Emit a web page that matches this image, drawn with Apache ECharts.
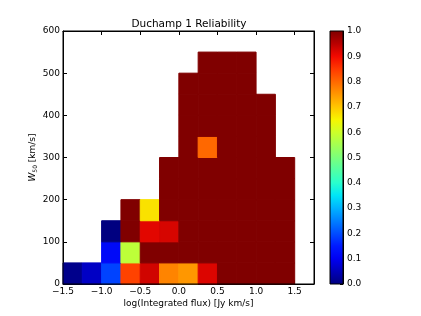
<!DOCTYPE html>
<html>
<head>
<meta charset="utf-8">
<script src="https://cdn.jsdelivr.net/npm/echarts@6/dist/echarts.min.js"></script>
<style>
html,body{margin:0;padding:0;background:#fff;}
#c{width:421px;height:316px;}
</style>
</head>
<body>
<div id="c"></div>
<script>
// ---- data ----
const title = 'Duchamp 1 Reliability';
const xLabel = 'log(Integrated flux) [Jy km/s]';
const binWidth = 0.25;   // log flux bin width
const binHeight = 50;    // W50 bin height (km/s)
const xEdges = [-1.5, -1.25, -1.0, -0.75, -0.5, -0.25, 0.0, 0.25, 0.5, 0.75, 1.0, 1.25];
const yEdges = [0, 50, 100, 150, 200, 250, 300, 350, 400, 450, 500];
// reliability per W50 row (bottom -> top), one value per flux bin, null = empty
const row0  = [0.01, 0.06, 0.19, 0.84, 0.93, 0.77, 0.75, 0.92, 1, 1, 1, 1];
const row1  = [null, null, 0.12, 0.58, 1, 1, 1, 1, 1, 1, 1, 1];
const row2  = [null, null, 0.0, 1, 0.915, 0.925, 1, 1, 1, 1, 1, 1];
const row3  = [null, null, null, 1, 0.67, 1, 1, 1, 1, 1, 1, 1];
const row4  = [null, null, null, null, null, 1, 1, 1, 1, 1, 1, 1];
const row5  = [null, null, null, null, null, 1, 1, 1, 1, 1, 1, 1];
const row6  = [null, null, null, null, null, null, 1, 0.8, 1, 1, 1, null];
const row7  = [null, null, null, null, null, null, 1, 1, 1, 1, 1, null];
const row8  = [null, null, null, null, null, null, 1, 1, 1, 1, 1, null];
const row9  = [null, null, null, null, null, null, 1, 1, 1, 1, null, null];
const row10 = [null, null, null, null, null, null, null, 1, 1, 1, null, null];
const rows = [row0, row1, row2, row3, row4, row5, row6, row7, row8, row9, row10];
const xTicks = [-1.5, -1.0, -0.5, 0.0, 0.5, 1.0, 1.5];
const yTicks = [0, 100, 200, 300, 400, 500, 600];
const cbTicks = [0.0, 0.1, 0.2, 0.3, 0.4, 0.5, 0.6, 0.7, 0.8, 0.9, 1.0];

// jet colormap stops (style)
const jet = ['#000080','#0000b9','#0000f3','#001aff','#004dff','#0080ff','#00b3ff','#00e6f7',
             '#29ffcd','#52ffa4','#7bff7b','#a4ff52','#cdff29','#f7f500','#ffc600','#ff9700',
             '#ff6800','#ff3900','#f30900','#b90000','#800000'];

const cells = [];
rows.forEach((r, j) => r.forEach((v, i) => {
  if (v !== null) cells.push([xEdges[i], yEdges[j], v]);
}));

const fmt = v => (v < 0 ? '\u2212' : '') + Math.abs(v).toFixed(1);
const FONT = 'DejaVu Sans';
const line = {show: true, onZero: false, lineStyle: {color: '#000', width: 1}};

const chart = echarts.init(document.getElementById('c'), null, {renderer: 'canvas'});
chart.setOption({
  animation: false,
  backgroundColor: '#fff',
  textStyle: {fontFamily: FONT},
  title: {
    text: title, left: 184, top: 14, textAlign: 'center',
    textStyle: {fontFamily: FONT, fontSize: 10.5, fontWeight: 'normal', color: '#000'}
  },
  grid: [
    {left: 63, top: 31, width: 251, height: 253, show: true, borderColor: '#000', borderWidth: 1, backgroundColor: 'transparent', z: 3},
    {left: 330, top: 31, width: 13, height: 253, show: true, borderColor: '#000', borderWidth: 1, backgroundColor: 'transparent', z: 3}
  ],
  visualMap: [{
    show: false, type: 'continuous', min: 0, max: 1, dimension: 2, seriesIndex: 0,
    inRange: {color: jet}
  }],
  xAxis: [
    {gridIndex: 0, type: 'value', min: -1.5, max: 1.75, interval: 0.5, position: 'bottom',
     name: xLabel, nameLocation: 'middle', nameGap: 15, nameMoveOverlap: false,
     nameTextStyle: {fontFamily: FONT, fontSize: 9, color: '#000'},
     axisLine: line,
     axisTick: {show: true, inside: true, length: 4, lineStyle: {color: '#000'}},
     axisLabel: {fontFamily: FONT, fontSize: 9, color: '#000', margin: 3,
       formatter: v => xTicks.some(t => Math.abs(t - v) < 1e-9) ? fmt(v) : ''},
     splitLine: {show: false}},
    {gridIndex: 0, type: 'value', min: -1.5, max: 1.75, interval: 0.5, position: 'top',
     axisLine: line,
     axisTick: {show: true, inside: true, length: 4, lineStyle: {color: '#000'}},
     axisLabel: {show: false}, splitLine: {show: false}},
    {gridIndex: 1, type: 'value', min: 0, max: 1, show: false}
  ],
  yAxis: [
    {gridIndex: 0, type: 'value', min: 0, max: 600, interval: 100, position: 'left',
     name: '{it|W}{sub|50} [km/s]', nameLocation: 'middle', nameGap: 25, nameRotate: 90,
     nameMoveOverlap: false,
     nameTextStyle: {fontFamily: FONT, fontSize: 9, color: '#000',
       rich: {it: {fontFamily: FONT, fontSize: 9, fontStyle: 'italic', color: '#000'},
              sub: {fontFamily: FONT, fontSize: 6, color: '#000', verticalAlign: 'bottom', padding: [4, 0, 0, 0]}}},
     axisLine: line,
     axisTick: {show: true, inside: true, length: 4, lineStyle: {color: '#000'}},
     axisLabel: {fontFamily: FONT, fontSize: 9, color: '#000', margin: 3,
       formatter: v => yTicks.includes(v) ? String(v) : ''},
     splitLine: {show: false}},
    {gridIndex: 0, type: 'value', min: 0, max: 600, interval: 100, position: 'right',
     axisLine: line,
     axisTick: {show: true, inside: true, length: 4, lineStyle: {color: '#000'}},
     axisLabel: {show: false}, splitLine: {show: false}},
    {gridIndex: 1, type: 'value', min: 0, max: 1, interval: 0.1, position: 'right',
     axisLine: line,
     axisTick: {show: true, inside: true, length: 3, lineStyle: {color: '#000'}},
     axisLabel: {fontFamily: FONT, fontSize: 9, color: '#000', margin: 4,
       formatter: v => cbTicks.some(t => Math.abs(t - v) < 1e-9) ? v.toFixed(1) : ''},
     splitLine: {show: false}}
  ],
  series: [
    {
      type: 'custom', xAxisIndex: 0, yAxisIndex: 0,
      dimensions: ['x', 'y', 'reliability'],
      encode: {x: 0, y: 1},
      data: cells,
      renderItem: function (params, api) {
        const x = api.value(0), y = api.value(1);
        const p0 = api.coord([x, y + binHeight]);
        const p1 = api.coord([x + binWidth, y]);
        const c = api.visual('color');
        return {
          type: 'rect',
          shape: {x: p0[0], y: p0[1], width: p1[0] - p0[0], height: p1[1] - p0[1]},
          style: {fill: c, stroke: c, lineWidth: 1, opacity: 1}
        };
      },
      z: 1
    },
    {
      type: 'custom', xAxisIndex: 2, yAxisIndex: 2,
      data: [[0, 0]],
      renderItem: function (params, api) {
        const p0 = api.coord([0, 1]);
        const p1 = api.coord([1, 0]);
        const stops = jet.map((c, k) => ({offset: 1 - k / (jet.length - 1), color: c}));
        return {
          type: 'rect',
          shape: {x: p0[0], y: p0[1], width: p1[0] - p0[0], height: p1[1] - p0[1]},
          style: {fill: new echarts.graphic.LinearGradient(0, 0, 0, 1, stops)}
        };
      },
      z: 1
    }
  ]
});
</script>
</body>
</html>
